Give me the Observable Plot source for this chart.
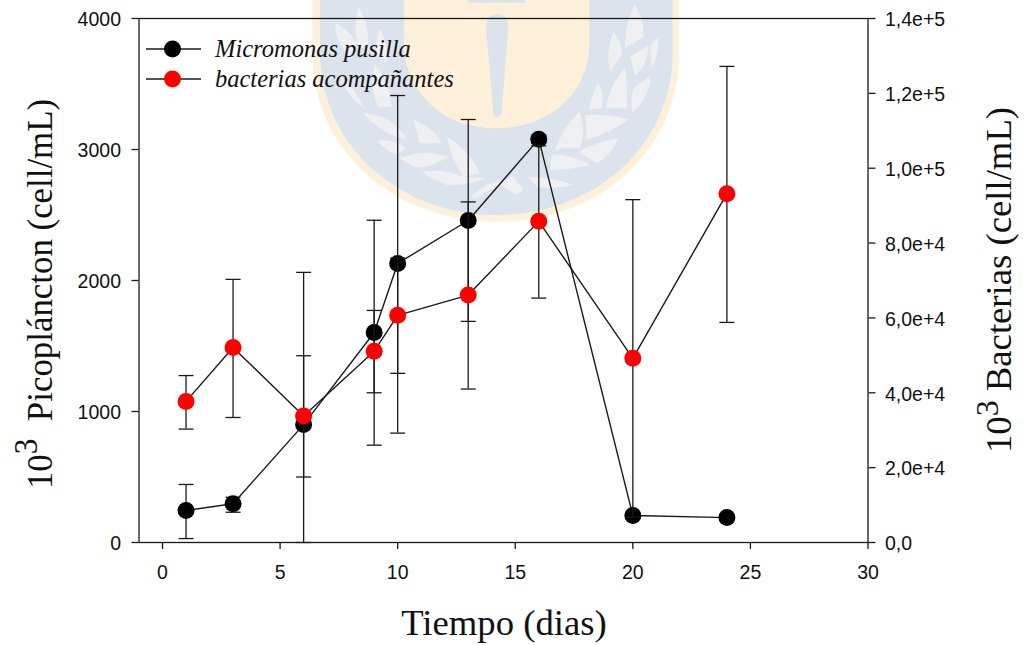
<!DOCTYPE html>
<html>
<head>
<meta charset="utf-8">
<script src="https://cdn.jsdelivr.net/npm/d3@7"></script>
<script src="https://cdn.jsdelivr.net/npm/@observablehq/plot@0.6"></script>
<style>
html,body{margin:0;padding:0;background:#fff;width:1025px;height:645px;overflow:hidden}
#wrap{position:relative;width:1025px;height:645px}
#crest,#chart,#legend{position:absolute;left:0;top:0}
#legend{left:146px;top:34px;font:italic 24.5px "Liberation Serif",serif;color:#111}
#legend div{display:flex;align-items:center;height:30px;white-space:nowrap}
#legend svg{margin-right:14px;display:block}
</style>
</head>
<body>
<div id="wrap">
<svg id="crest" width="1025" height="645" aria-hidden="true">
  <g transform="translate(300,0) scale(0.33333)">
    <path fill="#fef1dc" d="M37,0 L37,170 C45,470 300,665 590,665 C880,665 1130,470 1138,170 L1138,0 Z"/>
    <path fill="#dbe3ec" d="M60,0 L60,170 C70,450 310,645 590,645 C870,645 1110,450 1118,170 L1118,0 Z"/>
    <path fill="#fef0da" d="M312,0 L312,130 C315,290 440,385 590,385 C740,385 866,290 868,130 L868,0 Z"/>
    <path fill="#dbe3ec" d="M590,42 Q625,45 625,80 L605,340 Q590,365 580,340 L558,80 Q558,45 590,42 Z M505,0 H675 V8 H505 Z"/>
    <g fill="#eef0f2">
      <path d="M1005,15 Q1035,60 1030,110 Q1000,130 975,145 Q975,60 1005,15"/>
      <path d="M940,95 Q970,130 965,165 Q945,190 930,215 Q915,160 940,95"/>
      <path d="M1075,110 Q1075,170 1055,205 L1050,140Z"/>
      <path d="M990,170 L1045,135 Q1045,190 1005,228 Z"/>
      <path d="M975,205 Q985,270 980,325 L918,325 Q930,250 975,205"/>
      <path d="M1052,228 Q1050,290 997,340 Q990,290 1000,265 Z"/>
      <path d="M895,250 Q915,290 905,325 L868,328 Q875,280 895,250"/>
      <path d="M838,335 Q860,390 840,445 Q800,440 765,450 Q790,380 838,335"/>
      <path d="M855,345 Q930,340 985,358 Q930,400 860,420 Q860,380 855,345"/>
      <path d="M955,415 Q930,470 890,490 Q860,470 835,455 Q890,425 955,415"/>
      <path d="M755,462 Q820,465 870,495 Q810,510 750,510 Z"/>
      <path d="M680,530 Q760,530 820,555 Q760,570 710,560 Q700,545 680,530"/>
      <path d="M175,20 Q205,60 205,130 L180,150 Q155,90 175,20"/>
      <path d="M105,70 Q140,80 170,130 L150,165 Q105,130 105,70"/>
      <path d="M240,85 Q265,130 260,190 L230,160 Q225,120 240,85"/>
      <path d="M225,195 Q270,250 275,320 L235,320 Q205,260 225,195"/>
      <path d="M120,225 Q160,260 195,325 Q140,290 120,225"/>
      <path d="M190,340 Q280,345 320,420 Q240,400 190,340"/>
      <path d="M340,360 Q400,380 425,430 L360,430 Z"/>
      <path d="M232,420 Q290,420 318,445 L290,465 Q250,450 232,420"/>
      <path d="M300,475 Q370,445 445,470 Q380,510 340,500 Z"/>
      <path d="M440,410 Q510,450 540,520 L490,530 Q450,470 440,410"/>
      <path d="M365,515 Q430,505 490,530 L555,535 Q500,560 440,555 Q400,540 365,515"/>
      <path d="M510,590 Q560,545 640,530 L670,570 L650,585 L600,555 Q560,570 530,595 Z"/>
    </g>
  </g>
</svg>
<div id="chart"></div>
<div id="legend"></div>
</div>
<script>
const days = [1, 3, 6, 9, 10, 13, 16, 20, 24];

// Micromonas pusilla, 10^3 cell/mL (left axis)
const picoMean = [244, 296, 900, 1603, 2130, 2458, 3079, 206, 190];
const picoLow  = [30, 231, 0, 743, 835, 1688, 3050, 185, 170];
const picoHigh = [443, 345, 2062, 2460, 3412, 3229, 3110, 228, 210];

// bacterias acompañantes, 10^3 cell/mL (right axis)
const bactMean = [37700, 52100, 33800, 51100, 60700, 66100, 85800, 49200, 93200];
const bactLow  = [30300, 33400, 17500, 40000, 45200, 41000, 65300, 6800, 58800];
const bactHigh = [44600, 70300, 49900, 62000, 76000, 91000, 106000, 91600, 127200];

const xTicks = [0, 5, 10, 15, 20, 25, 30];
const yTicks = [0, 1000, 2000, 3000, 4000];
const y2Ticks = [0, 20000, 40000, 60000, 80000, 100000, 120000, 140000];
const y2Labels = ["0,0", "2,0e+4", "4,0e+4", "6,0e+4", "8,0e+4", "1,0e+5", "1,2e+5", "1,4e+5"];
const y2Ratio = 35;

const seriesPico = {name: "Micromonas pusilla", color: "#000000"};
const seriesBact = {name: "bacterias acompañantes", color: "#ff0000"};

const pico = days.map((d, i) => ({d, v: picoMean[i], lo: picoLow[i], hi: picoHigh[i]}));
const bact = days.map((d, i) => ({d, v: bactMean[i] / y2Ratio, lo: bactLow[i] / y2Ratio, hi: bactHigh[i] / y2Ratio}));

const ink = "#1a1a1a";
const cap = {draw(ctx) { ctx.moveTo(-7.5, 0); ctx.lineTo(7.5, 0); }};

function seriesMarks(data, color) {
  return [
    Plot.ruleX(data, {x: "d", y1: "lo", y2: "hi", stroke: ink, strokeWidth: 1.3}),
    Plot.dot(data, {x: "d", y: "lo", symbol: cap, r: 5, stroke: ink, strokeWidth: 1.3}),
    Plot.dot(data, {x: "d", y: "hi", symbol: cap, r: 5, stroke: ink, strokeWidth: 1.3}),
    Plot.line(data, {x: "d", y: "v", stroke: ink, strokeWidth: 1.4}),
    Plot.dot(data, {x: "d", y: "v", r: 8.5, fill: color, stroke: "none"})
  ];
}

const fontTicks = {fontSize: 19.5, fontFamily: "'Liberation Sans',Arial,sans-serif", fill: "#111"};

const chart = Plot.plot({
  width: 1025,
  height: 645,
  marginLeft: 138.5,
  marginRight: 157.5,
  marginTop: 18,
  marginBottom: 103,
  style: {background: "transparent", overflow: "visible"},
  x: {domain: [-1, 30], axis: null},
  y: {domain: [0, 4000], axis: null},
  marks: [
    Plot.axisX({ticks: xTicks, tickSize: 7, tickPadding: 16, tickFormat: d => String(d), stroke: ink, strokeWidth: 1.3, ...fontTicks, label: null}),
    Plot.axisY({ticks: yTicks, tickSize: 7, tickPadding: 11, tickFormat: d => String(d), stroke: ink, strokeWidth: 1.3, ...fontTicks, label: null}),
    Plot.axisY({anchor: "right", ticks: y2Ticks.map(t => t / y2Ratio), tickSize: 7, tickPadding: 10,
      tickFormat: (t, i) => y2Labels[i], stroke: ink, strokeWidth: 1.3, ...fontTicks, label: null}),
    Plot.frame({stroke: ink, strokeWidth: 1.3}),
    ...seriesMarks(pico, seriesPico.color),
    ...seriesMarks(bact, seriesBact.color)
  ]
});
document.getElementById("chart").appendChild(chart);

// Axis titles, real text with a raised exponent
const svg = d3.select(chart);
svg.selectAll('g[aria-label="y-axis tick label"]').each(function () {
  const g = d3.select(this);
  g.attr("transform", `${g.attr("transform") || ""} translate(0,1.5)`);
});
const serif = "'Liberation Serif','Times New Roman',serif";
function title(transform, parts, size) {
  const t = svg.append("text").attr("transform", transform).attr("text-anchor", "middle")
    .attr("font-family", serif).attr("font-size", size).attr("fill", "#111").style("white-space", "pre");
  parts.forEach(p => {
    const s = t.append("tspan").text(p.text);
    if (p.size) s.attr("font-size", p.size);
    if (p.dy) s.attr("dy", p.dy);
  });
}
title("translate(504,635)", [{text: "Tiempo (dias)"}], 36.7);
title("translate(52,294) rotate(-90) scale(0.95,1)",
  [{text: "10"}, {text: "3", size: 33, dy: -15}, {text: "  Picopláncton (cell/mL)", dy: 15}], 36.7);
title("translate(1010.5,280) rotate(-90)",
  [{text: "10"}, {text: "3", size: 32, dy: -13}, {text: " Bacterias (cell/mL)", dy: 13}], 36.7);

// Legend
const legend = d3.select("#legend");
[seriesPico, seriesBact].forEach(s => {
  const row = legend.append("div");
  const sw = row.append("svg").attr("width", 55).attr("height", 20);
  sw.append("line").attr("x1", 0).attr("x2", 55).attr("y1", 10).attr("y2", 10).attr("stroke", ink).attr("stroke-width", 1.4);
  sw.append("circle").attr("cx", 26.5).attr("cy", 10).attr("r", 8.5).attr("fill", s.color);
  row.append("span").text(s.name);
});
</script>
</body>
</html>
